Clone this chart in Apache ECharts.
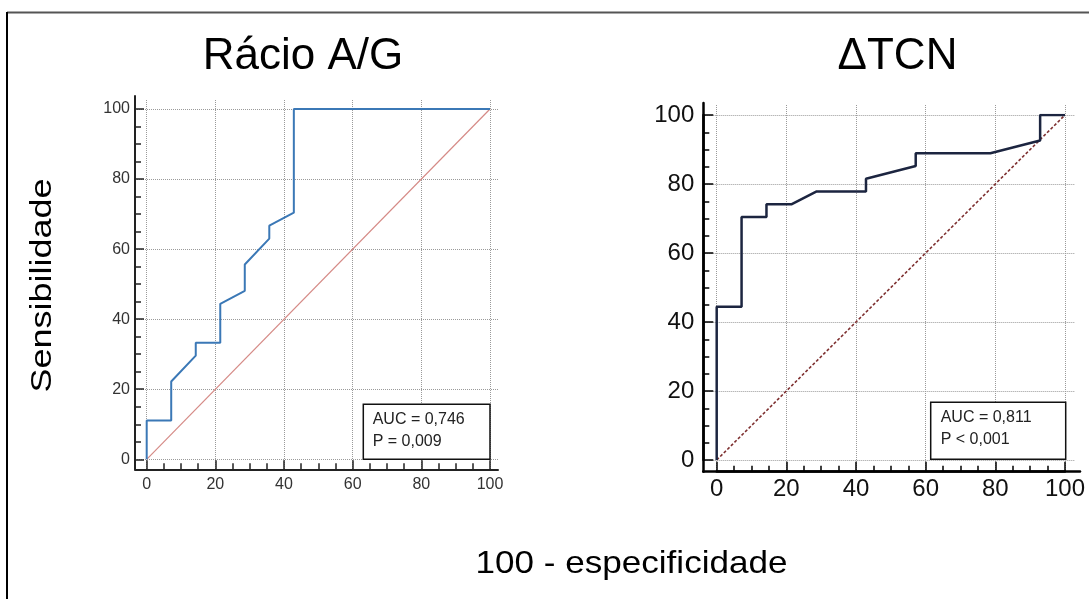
<!DOCTYPE html>
<html><head><meta charset="utf-8">
<script src="https://cdn.jsdelivr.net/npm/echarts@6/dist/echarts.min.js"></script>
<style>html,body{margin:0;padding:0;background:#fff}#c{width:1089px;height:599px}</style>
</head><body><div id="c"></div>
<script>
// ---- data ----
const plotTitles = ['Rácio A/G', 'ΔTCN'];
const xTitle = '100 - especificidade';
const yTitle = 'Sensibilidade';
const tickValues = [0, 20, 40, 60, 80, 100];
// ROC curve Rácio A/G (100 - especificidade, sensibilidade)
const rocAX = [0, 0, 7.14, 7.14, 14.29, 14.29, 21.43, 21.43, 28.57, 28.57, 35.71, 35.71, 42.86, 42.86, 100];
const rocAY = [0, 11.1, 11.1, 22.2, 29.6, 33.3, 33.3, 44.4, 48.1, 55.6, 63.0, 66.7, 70.4, 100, 100];
// ROC curve ΔTCN
const rocBX = [0, 0, 7.14, 7.14, 14.29, 14.29, 21.43, 28.57, 42.86, 42.86, 57.14, 57.14, 78.57, 92.86, 92.86, 100];
const rocBY = [0, 44.4, 44.4, 70.4, 70.4, 74.1, 74.1, 77.8, 77.8, 81.5, 85.2, 88.9, 88.9, 92.6, 100, 100];
// reference diagonal
const refX = [0, 100];
const refY = [0, 100];
const statsA = ['AUC = 0,746', 'P = 0,009'];
const statsB = ['AUC = 0,811', 'P < 0,001'];

const zip = (xs, ys) => xs.map((x, i) => [x, ys[i]]);
const FONT = '"Liberation Sans", Arial, sans-serif';

// ---- layout per panel ----
const panels = [
  { data: [146.7, 109, 343.3, 350.3], hg: [135, 109, 363, 350.3], vg: [146.7, 100, 343.3, 369.3], fr: [135, 96, 363, 373.3],
    xOff: 10, yOff: 11.7, fs: 16, col: '#333', maj: 9, mnr: 6, alw: 2, acol: '#222', xm: 7, ym: 5,
    roc: zip(rocAX, rocAY), rocCol: '#3b78b6', rocW: 2, refCol: '#d58a86', refW: 1.2, refType: 'solid' },
  { data: [716.7, 115, 348.3, 345], hg: [703.3, 115, 371.7, 345], vg: [716.7, 105, 348.3, 367], fr: [703.3, 103, 376.7, 368.7],
    xOff: 11.7, yOff: 13.4, fs: 24, col: '#111', maj: 10, mnr: 6, alw: 2.5, acol: '#000', xm: 6, ym: 9,
    roc: zip(rocBX, rocBY), rocCol: '#1c2540', rocW: 2.5, refCol: '#7e3030', refW: 1.6, refType: [3, 2] }
];

const grids = [], xAxes = [], yAxes = [], series = [];
const g = (a) => ({ left: a[0], top: a[1], width: a[2], height: a[3], containLabel: false });
const splitStyle = { show: true, lineStyle: { color: '#9a9a9a', type: 'dotted', width: 1 } };
const off = { show: false };

panels.forEach((p, k) => {
  const base = grids.length;
  // 0: data grid (ticks and labels on offset axes)
  grids.push(g(p.data));
  xAxes.push({ gridIndex: base, type: 'value', min: 0, max: 100, interval: 20, offset: p.xOff,
    axisLine: { show: true, onZero: false, lineStyle: { color: p.acol, width: p.alw } }, splitLine: off,
    axisTick: { show: true, inside: true, length: p.maj, lineStyle: { color: p.acol, width: 1.5 } },
    minorTick: { show: true, splitNumber: 4, length: p.mnr, lineStyle: { color: p.acol, width: 1.5 } },
    axisLabel: { fontSize: p.fs, color: p.col, fontFamily: FONT, margin: p.xm } });
  yAxes.push({ gridIndex: base, type: 'value', min: 0, max: 100, interval: 20, offset: p.yOff,
    axisLine: { show: true, onZero: false, lineStyle: { color: p.acol, width: p.alw } }, splitLine: off,
    axisTick: { show: true, inside: true, length: p.maj, lineStyle: { color: p.acol, width: 1.5 } },
    minorTick: { show: true, splitNumber: 4, length: p.mnr, lineStyle: { color: p.acol, width: 1.5 } },
    axisLabel: { fontSize: p.fs, color: p.col, fontFamily: FONT, margin: p.ym } });
  // 1: horizontal grid lines
  grids.push(g(p.hg));
  xAxes.push({ gridIndex: base + 1, type: 'value', min: 0, max: 1, show: false });
  yAxes.push({ gridIndex: base + 1, type: 'value', min: 0, max: 100, interval: 20,
    axisLine: off, axisTick: off, axisLabel: off, splitLine: splitStyle });
  // 2: vertical grid lines
  grids.push(g(p.vg));
  xAxes.push({ gridIndex: base + 2, type: 'value', min: 0, max: 100, interval: 20,
    axisLine: off, axisTick: off, axisLabel: off, splitLine: splitStyle });
  yAxes.push({ gridIndex: base + 2, type: 'value', min: 0, max: 1, show: false });
  // 3: frame axis lines
  grids.push(g(p.fr));
  xAxes.push({ gridIndex: base + 3, type: 'value', min: 0, max: 1,
    axisLine: { show: true, onZero: false, lineStyle: { color: p.acol, width: p.alw } },
    axisTick: off, axisLabel: off, splitLine: off });
  yAxes.push({ gridIndex: base + 3, type: 'value', min: 0, max: 1,
    axisLine: { show: true, onZero: false, lineStyle: { color: p.acol, width: p.alw } },
    axisTick: off, axisLabel: off, splitLine: off });

  series.push({ type: 'line', xAxisIndex: base, yAxisIndex: base, data: zip(refX, refY),
    showSymbol: false, silent: true, animation: false, z: 3,
    lineStyle: { color: p.refCol, width: p.refW, type: p.refType } });
  series.push({ type: 'line', xAxisIndex: base, yAxisIndex: base, data: p.roc,
    showSymbol: false, silent: true, animation: false, z: 4,
    lineStyle: { color: p.rocCol, width: p.rocW } });
});

function statBox(x, y, w, h, lines, tx, mids) {
  return { type: 'group', children: [
    { type: 'rect', shape: { x: x, y: y, width: w, height: h }, style: { fill: '#fff', stroke: '#111', lineWidth: 1.5 }, z: 10 },
    { type: 'text', x: tx, y: mids[0], z: 11, style: { text: lines[0], font: '16px ' + FONT, fill: '#222', align: 'left', verticalAlign: 'middle' } },
    { type: 'text', x: tx, y: mids[1], z: 11, style: { text: lines[1], font: '16px ' + FONT, fill: '#222', align: 'left', verticalAlign: 'middle' } }
  ] };
}

const graphic = [
  { type: 'line', shape: { x1: 7, y1: 12.5, x2: 1089, y2: 12.5 }, style: { stroke: '#555', lineWidth: 2 } },
  { type: 'line', shape: { x1: 7, y1: 12, x2: 7, y2: 599 }, style: { stroke: '#000', lineWidth: 2 } },
  { type: 'text', x: 303, y: 56.5, style: { text: plotTitles[0], font: '44px ' + FONT, fill: '#000', align: 'center', verticalAlign: 'middle' } },
  { type: 'text', x: 897.5, y: 56.5, style: { text: plotTitles[1], font: '44px ' + FONT, fill: '#000', align: 'center', verticalAlign: 'middle' } },
  { type: 'text', x: 631.5, y: 564.3, scaleX: 1.15, style: { text: xTitle, font: '30.5px ' + FONT, fill: '#000', align: 'center', verticalAlign: 'middle' } },
  { type: 'text', x: 42.8, y: 285.5, rotation: Math.PI / 2, scaleX: 1.2, style: { text: yTitle, font: '30px ' + FONT, fill: '#000', align: 'center', verticalAlign: 'middle' } },
  statBox(363.3, 404.3, 126.7, 55, statsA, 372.7, [419.4, 441.1]),
  statBox(930.7, 402.3, 135, 57, statsB, 940.7, [417.7, 439.4])
];

const chart = echarts.init(document.getElementById('c'), null, { renderer: 'canvas' });
chart.setOption({ animation: false, backgroundColor: '#fff', grid: grids, xAxis: xAxes, yAxis: yAxes, series: series, graphic: graphic });
</script></body></html>
